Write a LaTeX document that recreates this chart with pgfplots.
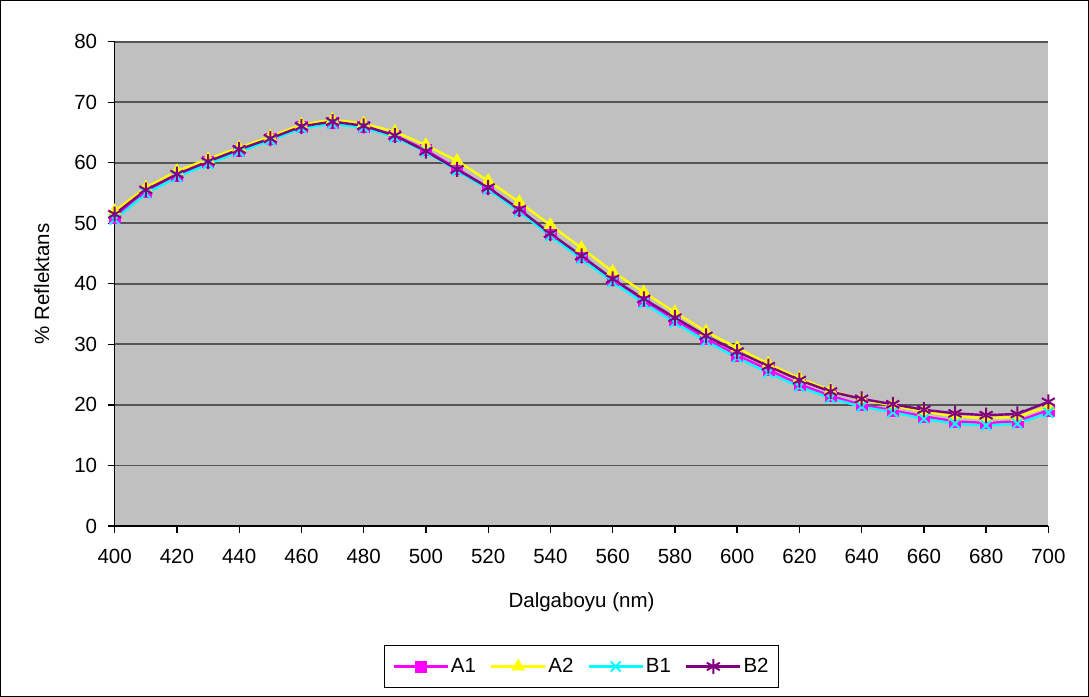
\documentclass[border=0pt]{standalone}
\usepackage{pgfplots}
\pgfplotsset{compat=1.18}
\usepackage{fontspec}
\setmainfont{Liberation Sans}
\definecolor{plotbg}{RGB}{192,192,192}
\definecolor{gridc}{RGB}{85,85,85}
\definecolor{cA1}{RGB}{255,0,255}
\definecolor{cA2}{RGB}{255,255,0}
\definecolor{cB1}{RGB}{0,255,255}
\definecolor{cB2}{RGB}{128,0,128}
\begin{document}
\begin{tikzpicture}[x=1pt,y=1pt]
\draw[black,line width=1.2pt] (1,1) rectangle (1088,696);
\begin{axis}[
  at={(115pt,171pt)}, anchor=south west,
  scale only axis, width=933pt, height=484pt,
  xmin=400, xmax=700, ymin=0, ymax=80,
  xtick={400,420,...,700}, ytick={0,10,...,80},
  axis background/.style={fill=plotbg},
  axis lines=left, axis line style={-, black, line width=1.3pt},
  ymajorgrids, grid style={gridc, line width=1.8pt}, major grid style={gridc, line width=1.8pt},
  tick style={black,line width=1.3pt},
  tick align=outside, major tick length=7pt,
  tick label style={font=\fontsize{20.5}{22}\selectfont},
  /pgf/number format/assume math mode=true,
  xticklabel style={yshift=-13pt},
  yticklabel style={xshift=-7pt},
  xlabel={Dalgaboyu (nm)}, ylabel={\% Reflektans},
  label style={font=\fontsize{20.5}{22}\selectfont},
  xlabel style={yshift=-22pt},
  ylabel style={yshift=18pt},
  legend style={at={(0.5,-0.29)}, anchor=center, legend columns=4,
    draw=black, line width=1.2pt, font=\fontsize{20.5}{22}\selectfont,
    /tikz/every even column/.append style={column sep=12pt},
    inner xsep=8pt, inner ysep=11pt, row sep=0pt},
  legend image code/.code={%
    \draw[#1, mark repeat=2, mark phase=2] plot coordinates {(0pt,0pt) (27pt,0pt) (54pt,0pt)};},
]
\addplot[cA1, line width=2.4pt, mark=square*, mark size=5.5pt, mark options={solid,line width=0.4pt}] coordinates {
(400,51.0)(410,55.2)(420,57.9)(430,60.1)(440,62.0)(450,63.9)(460,65.9)(470,66.6)(480,66.0)(490,64.5)
(500,62.1)(510,59.0)(520,55.9)(530,52.2)(540,48.2)(550,44.5)(560,40.7)(570,37.2)(580,34.0)(590,30.9)
(600,28.2)(610,25.8)(620,23.4)(630,21.5)(640,20.0)(650,19.1)(660,18.1)(670,17.3)(680,17.0)(690,17.3)(700,19.1)};
\addlegendentry{A1}
\addplot[cA2, line width=2.4pt, mark=triangle*, mark size=7.5pt, mark options={solid,line width=0.4pt}] coordinates {
(400,52.0)(410,55.9)(420,58.6)(430,60.6)(440,62.5)(450,64.3)(460,66.3)(470,67.1)(480,66.5)(490,65.1)
(500,62.9)(510,60.3)(520,57.0)(530,53.5)(540,49.7)(550,45.9)(560,42.0)(570,38.6)(580,35.3)(590,32.1)
(600,29.4)(610,26.8)(620,24.4)(630,22.4)(640,20.9)(650,19.9)(660,18.9)(670,18.1)(680,17.8)(690,18.0)(700,19.8)};
\addlegendentry{A2}
\addplot[cB1, line width=2.4pt, mark=x, mark size=7pt, mark options={solid,line width=2pt}] coordinates {
(400,50.6)(410,54.9)(420,57.6)(430,59.8)(440,61.8)(450,63.7)(460,65.7)(470,66.4)(480,65.8)(490,64.2)
(500,61.8)(510,58.7)(520,55.6)(530,51.9)(540,47.9)(550,44.1)(560,40.3)(570,36.8)(580,33.6)(590,30.5)
(600,27.8)(610,25.3)(620,23.0)(630,21.1)(640,19.7)(650,18.8)(660,17.7)(670,16.9)(680,16.6)(690,16.9)(700,18.7)};
\addlegendentry{B1}
\addplot[cB2, line width=2.4pt, mark=asterisk, mark size=7.5pt, mark options={solid,line width=2pt}] coordinates {
(400,51.5)(410,55.5)(420,58.1)(430,60.2)(440,62.2)(450,64.0)(460,66.0)(470,66.8)(480,66.1)(490,64.5)
(500,61.9)(510,58.9)(520,55.9)(530,52.3)(540,48.3)(550,44.6)(560,40.8)(570,37.5)(580,34.4)(590,31.4)
(600,28.8)(610,26.4)(620,24.1)(630,22.2)(640,21.0)(650,20.1)(660,19.2)(670,18.6)(680,18.3)(690,18.5)(700,20.5)};
\addlegendentry{B2}
\end{axis}
\end{tikzpicture}
\end{document}
